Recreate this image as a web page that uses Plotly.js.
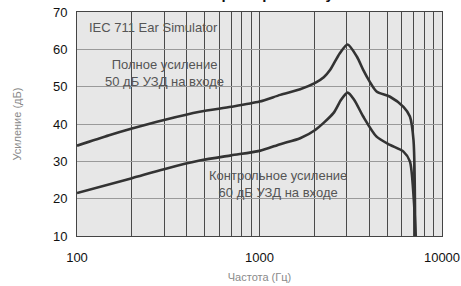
<!DOCTYPE html>
<html>
<head>
<meta charset="utf-8">
<script src="https://cdn.plot.ly/plotly-3.0.1.min.js"></script>
<style>html,body{margin:0;padding:0;background:#fff;}#chart{width:461px;height:286px;}</style>
</head>
<body>
<div id="chart"></div>
<script>
// Data
const freqFull = [100, 150, 200, 300, 470, 700, 1000, 1300, 1670, 2020, 2250, 2440, 2750, 3040, 3420, 3700, 4000, 4380, 5190, 6150, 6670, 6980, 7130];
const gainFull = [34.2, 37.0, 38.8, 41.1, 43.3, 44.6, 46.0, 47.8, 49.3, 51.0, 52.5, 54.5, 58.9, 61.3, 58.0, 54.5, 51.5, 48.7, 47.3, 44.6, 42.0, 35.7, 10.0];

const freqRef = [100, 200, 300, 470, 700, 1000, 1300, 1670, 2020, 2540, 2800, 3040, 3300, 3700, 4380, 5190, 6150, 6670, 7000, 7180];
const gainRef = [21.5, 25.5, 27.9, 30.2, 31.6, 32.8, 34.6, 36.2, 38.4, 42.9, 46.5, 48.4, 46.5, 42.0, 36.6, 34.4, 32.6, 30.0, 20.0, 10.0];

const xTickVals = [100,200,300,400,500,600,700,800,900,1000,2000,3000,4000,5000,6000,7000,8000,9000,10000];
const xTickText = ['100','','','','','','','','','1000','','','','','','','','','10000'];
const yTickVals = [10,20,30,40,50,60,70];

const chartTitle = 'Частотная характеристика усиления';
const labelEar = 'IEC 711 Ear Simulator';
const labelFull = 'Полное усиление<br>50 дБ УЗД на входе';
const labelRef = 'Контрольное усиление<br>60 дБ УЗД на входе';

const lineStyle = {color: '#333333', width: 2.6, shape: 'spline', smoothing: 0.7};
const traces = [
  {x: freqFull, y: gainFull, mode: 'lines', line: lineStyle, hoverinfo: 'skip'},
  {x: freqRef, y: gainRef, mode: 'lines', line: lineStyle, hoverinfo: 'skip'}
];

const font = 'Liberation Sans, Arial, sans-serif';
const layout = {
  width: 461, height: 286,
  margin: {l: 77, r: 19, t: 12, b: 50},
  paper_bgcolor: '#ffffff',
  plot_bgcolor: '#e7e7e7',
  showlegend: false,
  font: {family: font, size: 12, color: '#111'},
  xaxis: {
    type: 'log', range: [2, 4],
    tickvals: xTickVals, ticktext: xTickText,
    showgrid: true, gridcolor: '#4a4a4a', gridwidth: 1,
    showline: true, mirror: true, linecolor: '#444', linewidth: 1,
    ticks: '', ticklabelstandoff: 9, tickfont: {family: font, size: 13, color: '#111'},
    title: {text: 'Частота (Гц)', font: {family: font, size: 11, color: '#8a8a8a'}, standoff: 9},
    zeroline: false, fixedrange: true
  },
  yaxis: {
    range: [10, 70], tickvals: yTickVals,
    showgrid: true, gridcolor: '#9a9a9a', gridwidth: 1,
    showline: true, mirror: true, linecolor: '#444', linewidth: 1,
    ticks: '', ticklabelstandoff: 6, tickfont: {family: font, size: 13, color: '#111'},
    title: {text: 'Усиление (дБ)', font: {family: font, size: 11, color: '#8a8a8a'}, standoff: 29},
    zeroline: false, fixedrange: true
  },
  annotations: [
    {text: chartTitle, xref: 'paper', yref: 'paper', x: 0.5, y: 1.035, yanchor: 'bottom', xanchor: 'center', showarrow: false,
     font: {family: font, size: 15, color: '#111', weight: 'bold'}},
    {text: labelEar, xref: 'paper', yref: 'paper', x: 0.028, y: 0.933, xanchor: 'left', yanchor: 'middle', showarrow: false,
     font: {family: font, size: 13, color: '#555'}},
    {text: labelFull, xref: 'x', yref: 'y', x: Math.log10(303), y: 53.7, xanchor: 'center', yanchor: 'middle', showarrow: false,
     font: {family: font, size: 13, color: '#555'}},
    {text: labelRef, xref: 'x', yref: 'y', x: Math.log10(1262), y: 24.0, xanchor: 'center', yanchor: 'middle', showarrow: false,
     font: {family: font, size: 13, color: '#555'}}
  ]
};

Plotly.newPlot('chart', traces, layout, {displayModeBar: false, staticPlot: true});
</script>
</body>
</html>
